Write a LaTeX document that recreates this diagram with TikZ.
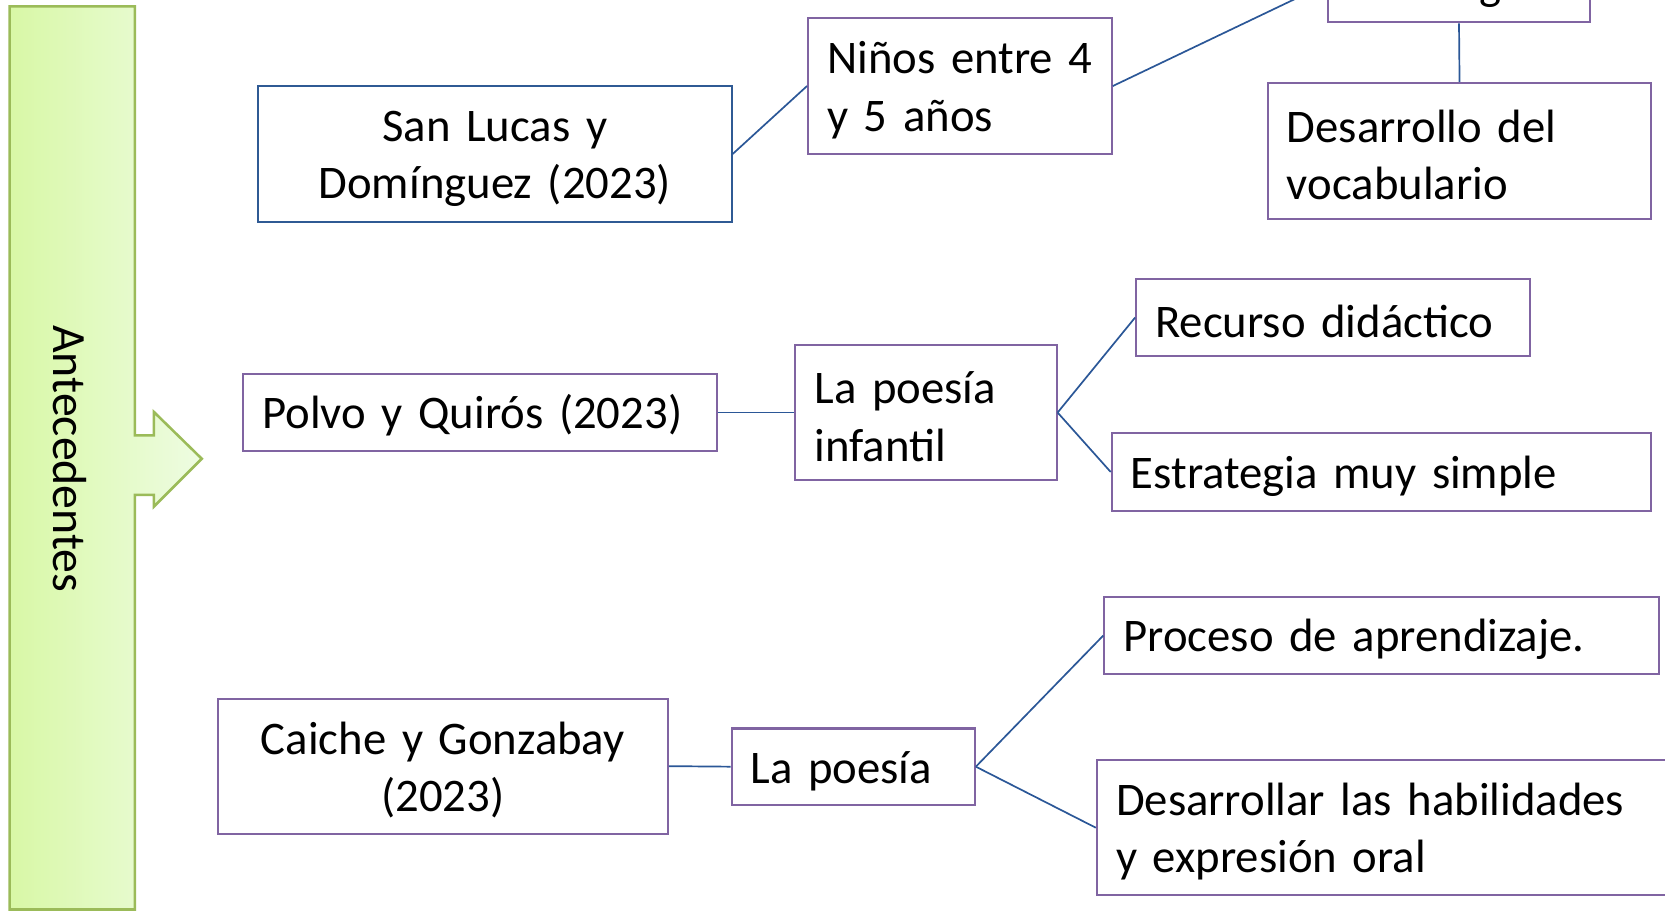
\documentclass[tikz,border=0pt]{standalone}
\usepackage{fontspec}
\setmainfont{Carlito}
\definecolor{boxpurple}{HTML}{8064A2}
\definecolor{boxblue}{HTML}{2F5A94}
\definecolor{connblue}{HTML}{2B5797}
\definecolor{bargreen}{HTML}{9BBB59}
\definecolor{barleft}{HTML}{D8F8A6}
\definecolor{barright}{HTML}{EEFCE2}
\begin{document}
\begin{tikzpicture}[x=0.5pt,y=-0.5pt,
  box/.style={draw=boxpurple, line width=1pt, fill=white, inner xsep=9pt, inner ysep=0pt,
    font=\fontsize{22pt}{27pt}\selectfont, align=left, anchor=center,
    execute at begin node={\rule{0pt}{19pt}}},
  conn/.style={draw=connblue, line width=0.8pt}]
\useasboundingbox (0,0) rectangle (1568,858);
% left bar with arrow
\shade[left color=barleft, right color=barright]
  (9,6) -- (127,6) -- (127,410) -- (145,410) -- (145,388) -- (190,432) -- (145,477) -- (145,466) -- (127,466) -- (127,856.5) -- (9,856.5) -- cycle;
\draw[bargreen, line width=1.2pt, line join=miter]
  (9,6) -- (127,6) -- (127,410) -- (145,410) -- (145,388) -- (190,432) -- (145,477) -- (145,466) -- (127,466) -- (127,856.5) -- (9,856.5) -- cycle;
\node[font=\fontsize{22.5pt}{27pt}\selectfont, rotate=-90] (ant) at (66,432) {Antecedentes};
% boxes
\node[box, draw=boxblue, text width=205pt, align=center, minimum height=64pt] (sl) at (466,145) {San Lucas y\\Domínguez (2023)};
\node[box, text width=125pt, minimum height=64pt] (ni) at (904,81) {Niños entre 4\\y 5 años};
\node[box, text width=105pt, minimum height=36.5pt] (top) at (1374,-15.5) {Estrategia};
\node[box, text width=162.5pt, minimum height=64pt] (de) at (1374.5,142) {Desarrollo del\\vocabulario};
\node[box, text width=205pt, minimum height=36.5pt] (po) at (452,388.5) {Polvo y Quirós (2023)};
\node[box, text width=105pt, minimum height=63.5pt] (lpi) at (872,388.5) {La poesía\\infantil};
\node[box, text width=167.5pt, minimum height=36pt] (rd) at (1255.5,299) {Recurso didáctico};
\node[box, text width=236pt, minimum height=36.5pt] (es) at (1301,444.5) {Estrategia muy simple};
\node[box, text width=194pt, align=center, minimum height=63.5pt] (ca) at (417,721.5) {Caiche y Gonzabay\\(2023)};
\node[box, text width=96.5pt, minimum height=36pt] (lp) at (803.5,722) {La poesía};
\node[box, text width=243pt, minimum height=36.5pt] (pr) at (1301,598.5) {Proceso de aprendizaje.};
\node[box, text width=260.5pt, minimum height=63.5pt] (dh) at (1311.5,779.5) {Desarrollar las habilidades\\y expresión oral};
% connectors
\draw[conn] (sl.east) -- (ni.west);
\draw[conn] (ni.east) -- (top.west);
\draw[conn] (top.south) -- (de.north);
\draw[conn] (po.east) -- (lpi.west);
\draw[conn] (lpi.east) -- (rd.west);
\draw[conn] (lpi.east) -- (es.west);
\draw[conn] (ca.east) -- (lp.west);
\draw[conn] (lp.east) -- (pr.west);
\draw[conn] (lp.east) -- (dh.west);
\end{tikzpicture}
\end{document}
